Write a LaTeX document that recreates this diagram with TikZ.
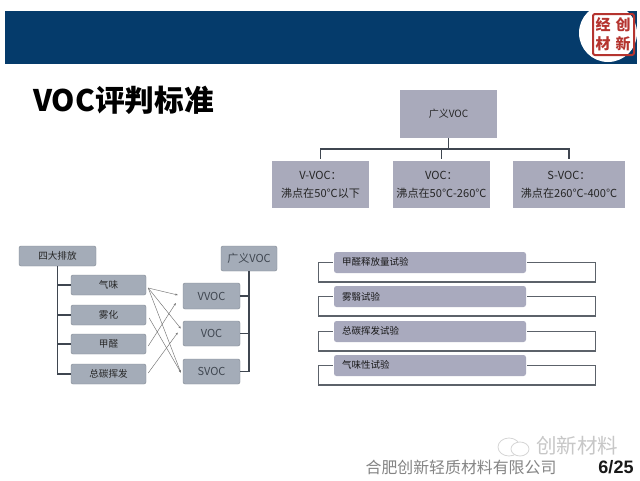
\documentclass[tikz,border=0pt]{standalone}
\usepackage{fontspec}
\setmainfont{Liberation Sans}
\newfontfamily\cjk{Noto Sans CJK SC}
\usetikzlibrary{arrows.meta,calc}
\definecolor{banner}{HTML}{053B6B}
\definecolor{boxtop}{HTML}{A9AABB}
\definecolor{boxleft}{HTML}{A4ACB8}
\definecolor{boxlist}{HTML}{A9AABE}
\definecolor{linedark}{HTML}{3F4650}
\definecolor{stampred}{HTML}{B5342F}
\tikzset{
  x=1pt,y=-1pt,
  topbox/.style={fill=boxtop,inner sep=0pt,align=center,text=black!85,font=\cjk\fontsize{11.1}{18}\selectfont},
  leftbox/.style={fill=boxleft,draw=boxleft!80!black,line width=.4pt,rounded corners=2pt,inner sep=0pt,text=black!85,font=\cjk\fontsize{9.6}{10}\selectfont},
  rightv/.style={leftbox,font=\cjk\fontsize{11}{12}\selectfont,text=linedark},
  listbox/.style={fill=boxlist,rounded corners=2.5pt,inner sep=0pt,minimum width=192pt,minimum height=21pt},
  listtext/.style={anchor=west,inner sep=0pt,text=black!90,font=\cjk\fontsize{9.5}{11}\selectfont},
  trunk/.style={draw=linedark,line width=1.5pt},
  thin link/.style={draw=black!55,line width=.45pt,-{Stealth[length=2.5pt,width=2pt]}},
  loopline/.style={draw=linedark!85,line width=1.1pt},
  stampchar/.style={inner sep=0pt,text=stampred,font=\cjk\bfseries\fontsize{15}{15}\selectfont},
}
\begin{document}
\begin{tikzpicture}
\useasboundingbox (0,0) rectangle (640,480);
\fill[white] (0,0) rectangle (640,480);
% banner
\fill[banner] (5,11) rectangle (637,64);
\fill[white] (608,33) circle (29);
\draw[stampred,line width=2pt,rounded corners=2pt] (593,14) rectangle (634,55);
\node[stampchar] (s1) at (603,25) {经};
\node[stampchar] (s2) at (623,25) {创};
\node[stampchar] (s3) at (603,44) {材};
\node[stampchar] (s4) at (623,44) {新};
% title
\node[inner sep=0pt,anchor=west,font=\cjk\bfseries\fontsize{29.7}{30}\selectfont] (title) at (33,100) {VOC评判标准};
% top tree
\node[topbox,minimum width=97pt,minimum height=48pt,font=\cjk\fontsize{10}{12}\selectfont] (root) at (448.5,114) {广义VOC};
\node[topbox,minimum width=97pt,minimum height=47pt] (c1) at (320.5,184.5) {V-VOC：\\沸点在50℃以下};
\node[topbox,minimum width=97pt,minimum height=47pt] (c2) at (441.5,184.5) {VOC：\\沸点在50℃-260℃};
\node[topbox,minimum width=112pt,minimum height=47pt] (c3) at (569,184.5) {S-VOC：\\沸点在260℃-400℃};
\coordinate (bar) at ($(root.south)+(0,11)$);
\draw[trunk] (root.south) -- (bar);
\draw[trunk] ([yshift=2pt]c1.north) |- (bar) -| ([yshift=2pt]c3.north);
\draw[trunk] ([yshift=2pt]c2.north) -- (c2.north |- bar);
% left diagram
\node[leftbox,minimum width=77pt,minimum height=20pt] (l0) at (57.5,256) {四大排放};
\node[leftbox,minimum width=75pt,minimum height=20pt] (l1) at (108.5,285) {气味};
\node[leftbox,minimum width=75pt,minimum height=20pt] (l2) at (108.5,315) {雾化};
\node[leftbox,minimum width=75pt,minimum height=20pt] (l3) at (108.5,344) {甲醛};
\node[leftbox,minimum width=75pt,minimum height=20pt] (l4) at (108.5,374) {总碳挥发};
\draw[trunk] (l0.south) |- (l4.west);
\draw[trunk] (l0.south |- l1.west) -- (l1.west);
\draw[trunk] (l0.south |- l2.west) -- (l2.west);
\draw[trunk] (l0.south |- l3.west) -- (l3.west);
\node[rightv,minimum width=56pt,minimum height=25pt] (g0) at (249,258.5) {广义VOC};
\node[rightv,minimum width=57pt,minimum height=26pt] (g1) at (211.5,296) {VVOC};
\node[rightv,minimum width=57pt,minimum height=25pt] (g2) at (211.5,333.5) {VOC};
\node[rightv,minimum width=57pt,minimum height=25pt] (g3) at (211.5,371.5) {SVOC};
\draw[trunk] (g0.south) |- (g3.east);
\draw[trunk] (g0.south |- g1.east) -- (g1.east);
\draw[trunk] (g0.south |- g2.east) -- (g2.east);
\draw[thin link] ([shift={(2,3)}]l1.east) -- ([shift={(-5,-1)}]g1.west);
\draw[thin link] ([shift={(2,3)}]l1.east) -- ([shift={(-2,-5)}]g2.west);
\draw[thin link] ([shift={(2,3)}]l1.east) -- ([shift={(-2,1)}]g3.west);
\draw[thin link] ([shift={(3,3)}]l2.east) -- ([shift={(-2,1)}]g3.west);
\draw[thin link] ([shift={(2,2)}]l3.east) -- ([shift={(-7,7)}]g1.west);
\draw[thin link] ([shift={(2,-1)}]l4.east) -- ([shift={(-5,-1)}]g2.west);
% right list
\node[listbox] (b1) at (430,262.5) {};
\node[listbox] (b2) at (430,296.5) {};
\node[listbox] (b3) at (430,331.5) {};
\node[listbox] (b4) at (430,365.5) {};
\node[listtext] (t1) at (342,262) {甲醛释放量试验};
\node[listtext] (t2) at (342,296.5) {雾翳试验};
\node[listtext] (t3) at (342,331) {总碳挥发试验};
\node[listtext] (t4) at (342,365) {气味性试验};
\foreach \b in {b1,b2,b3,b4}{
  \draw[loopline] ([xshift=-1pt]\b.west) -- ++(-14,0) -- ++(0,19.5) -- ++(277,0) -- ++(0,-19.5) -- ([xshift=1pt]\b.east);
}
% footer
\draw[black!16,line width=.8pt] (509,447) ellipse (11 and 9);
\draw[black!16,line width=.8pt,fill=white] (520,449) ellipse (9 and 7);
\node[inner sep=0pt,text=black!22,font=\cjk\fontsize{20.5}{21}\selectfont] (wm) at (577,446) {创新材料};
\node[inner sep=0pt,text=black!48,font=\cjk\fontsize{15.9}{17}\selectfont] (co) at (461,467) {合肥创新轻质材料有限公司};
\node[inner sep=0pt,font=\bfseries\fontsize{18}{18}\selectfont,text=black!90] (pg) at (616,467) {6/25};
\end{tikzpicture}
\end{document}
